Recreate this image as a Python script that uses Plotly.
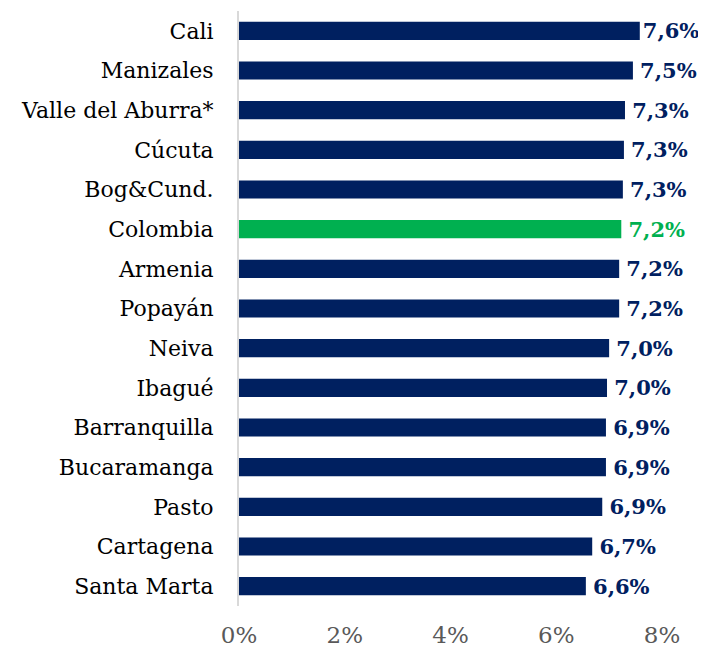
import plotly.graph_objects as go

cities = ["Cali", "Manizales", "Valle del Aburra*", "Cúcuta", "Bog&Cund.", "Colombia",
          "Armenia", "Popayán", "Neiva", "Ibagué", "Barranquilla", "Bucaramanga",
          "Pasto", "Cartagena", "Santa Marta"]
values = [7.58, 7.45, 7.30, 7.28, 7.26, 7.23, 7.19, 7.19, 7.00, 6.96, 6.94, 6.94, 6.87, 6.68, 6.56]
labels = ["7,6%", "\u20097,5%", "\u20097,3%", "\u20097,3%", "\u20097,3%", "\u20097,2%",
          "\u20097,2%", "\u20097,2%", "\u20097,0%", "\u20097,0%", "\u20096,9%", "\u20096,9%",
          "\u20096,9%", "\u20096,7%", "\u20096,6%"]
tick_vals = [0, 2, 4, 6, 8]
tick_text = ["0%", "2%", "4%", "6%", "8%"]

NAVY = "#002060"
GREEN = "#00B050"
colors = [GREEN if c == "Colombia" else NAVY for c in cities]

fig = go.Figure(go.Bar(
    x=values, y=cities, orientation="h",
    marker=dict(color=colors, line=dict(width=0)),
    text=labels, textposition="outside", cliponaxis=False,
    constraintext="none",
    textfont=dict(family="DejaVu Serif", size=21, color=colors, weight="bold"),
    width=0.46,
))

fig.update_layout(
    width=698, height=643,
    margin=dict(l=231, r=44, t=3, b=45),
    plot_bgcolor="white", paper_bgcolor="white",
    showlegend=False,
    xaxis=dict(range=[0, 8], tickvals=tick_vals, ticktext=tick_text,
               showgrid=False, zeroline=False, showline=False,
               tickfont=dict(family="DejaVu Serif", size=23, color="#595959"),
               ticks="", ticklen=0, ticklabelstandoff=13),
    yaxis=dict(autorange="reversed", showgrid=False, zeroline=False,
               showline=True, linecolor="#D9D9D9", linewidth=2,
               ticks="", ticklabelstandoff=19,
               tickfont=dict(family="DejaVu Serif", size=22, color="#000000")),
)

fig.write_html("out.html")
